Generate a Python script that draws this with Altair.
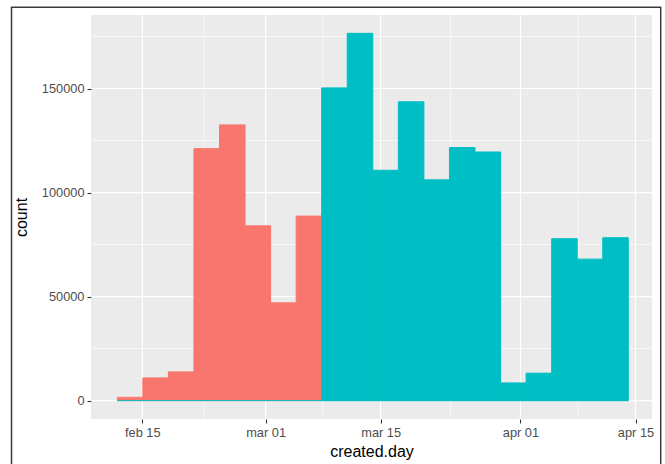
import altair as alt
import pandas as pd

# ---- data ----
groups = ["before", "after"]
group_colors = ["#F8766D", "#00BFC4"]
red_counts = [1600, 10900, 13800, 121100, 132500, 84000, 47000, 88700]
teal_counts = [150300, 176500, 110700, 143600, 106100, 121600, 119500,
               8500, 13200, 77800, 68000, 78300]
bin_start = "2016-02-11T23:00:00"
bin_width_hours = 74.6

x_tick_dates = [(2016, 2, 15), (2016, 3, 1), (2016, 3, 15), (2016, 4, 1), (2016, 4, 15)]
x_minor_dates = ["2016-02-22T12:00:00Z", "2016-03-08T00:00:00Z",
                 "2016-03-23T12:00:00Z", "2016-04-08T00:00:00Z"]
x_major_dates = ["2016-02-15T00:00:00Z", "2016-03-01T00:00:00Z", "2016-03-15T00:00:00Z",
                 "2016-04-01T00:00:00Z", "2016-04-15T00:00:00Z"]
y_ticks = [0, 50000, 100000, 150000]
y_minor = [25000, 75000, 125000, 175000]
y_domain = [-8825, 185325]

# ---- build histogram table ----
counts = red_counts + teal_counts
labels = [groups[0]] * len(red_counts) + [groups[1]] * len(teal_counts)
t0 = pd.Timestamp(bin_start)
w = pd.Timedelta(hours=bin_width_hours)
fmt = "%Y-%m-%dT%H:%M:%SZ"
df = pd.DataFrame({
    "start": [(t0 + i * w).strftime(fmt) for i in range(len(counts))],
    "end": [(t0 + (i + 1) * w).strftime(fmt) for i in range(len(counts))],
    "count": counts,
    "base": [0] * len(counts),
    "group": labels,
})
base_line = pd.DataFrame({
    "start": [t0.strftime(fmt)],
    "end": [(t0 + len(counts) * w).strftime(fmt)],
    "count": [0],
})

FONT = "Liberation Sans"
xscale = alt.Scale(type="utc", domain=[
    alt.DateTime(year=2016, month=2, date=8, hours=18, minutes=13, utc=True),
    alt.DateTime(year=2016, month=4, date=17, hours=0, minutes=10, utc=True)])
yscale = alt.Scale(domain=y_domain, nice=False, zero=False)

xaxis = alt.Axis(
    values=[alt.DateTime(year=y, month=m, date=d, utc=True) for (y, m, d) in x_tick_dates],
    labelExpr="lower(utcFormat(datum.value, '%b %d'))",
    grid=False, domain=False, tickColor="#333333", tickSize=4, tickWidth=1.1,
    labelColor="#4D4D4D", labelFont=FONT, labelFontSize=12.8, labelPadding=3,
    labelOverlap=False, labelFlush=False,
    titleFont=FONT, titleFontSize=16, titleFontWeight="normal", titleColor="black",
    titlePadding=5)
yaxis = alt.Axis(
    values=y_ticks, format="d",
    grid=False, domain=False, tickColor="#333333", tickSize=4, tickWidth=1.1,
    labelColor="#4D4D4D", labelFont=FONT, labelFontSize=12.8, labelPadding=3,
    labelOverlap=False, labelFlush=False,
    titleFont=FONT, titleFontSize=16, titleFontWeight="normal", titleColor="black",
    titlePadding=12)

X = lambda: alt.X("start:T", scale=xscale, axis=xaxis, title="created.day")
Y = lambda: alt.Y("count:Q", scale=yscale, axis=yaxis, title="count")

hminor = alt.Chart(pd.DataFrame({"count": y_minor})).mark_rule(
    color="white", strokeWidth=0.6).encode(y=Y())
hmajor = alt.Chart(pd.DataFrame({"count": y_ticks})).mark_rule(
    color="white", strokeWidth=1.2).encode(y=Y())
vminor = alt.Chart(pd.DataFrame({"start": x_minor_dates})).mark_rule(
    color="white", strokeWidth=0.6).encode(x=X())
vmajor = alt.Chart(pd.DataFrame({"start": x_major_dates})).mark_rule(
    color="white", strokeWidth=1.2).encode(x=X())

color_scale = alt.Scale(domain=groups, range=group_colors)
bars = alt.Chart(df).mark_rect(strokeWidth=1).encode(
    x=X(), x2="end:T",
    y=Y(), y2="base:Q",
    color=alt.Color("group:N", scale=color_scale, legend=None),
    stroke=alt.Stroke("group:N", scale=color_scale, legend=None),
)
baseline = alt.Chart(base_line).mark_rule(color=group_colors[1], strokeWidth=1).encode(
    x=X(), x2="end:T", y=Y())

border = alt.Chart(alt.Data(values=[{}])).mark_rect(
    filled=False, stroke="#3a3a3a", strokeWidth=1.5, clip=False).encode(
    x=alt.value(-79.5), x2=alt.value(569.7), y=alt.value(-7.7), y2=alt.value(470))

chart = alt.layer(hminor, hmajor, vminor, vmajor, bars, baseline, border).properties(
    width=561, height=404,
    autosize=alt.AutoSizeParams(type="none"),
    padding={"left": 91, "top": 15, "right": 13, "bottom": 45},
    background="white",
).configure_view(fill="#EBEBEB", strokeWidth=0)

chart.save("out.html", embed_options={"renderer": "svg", "actions": False})
